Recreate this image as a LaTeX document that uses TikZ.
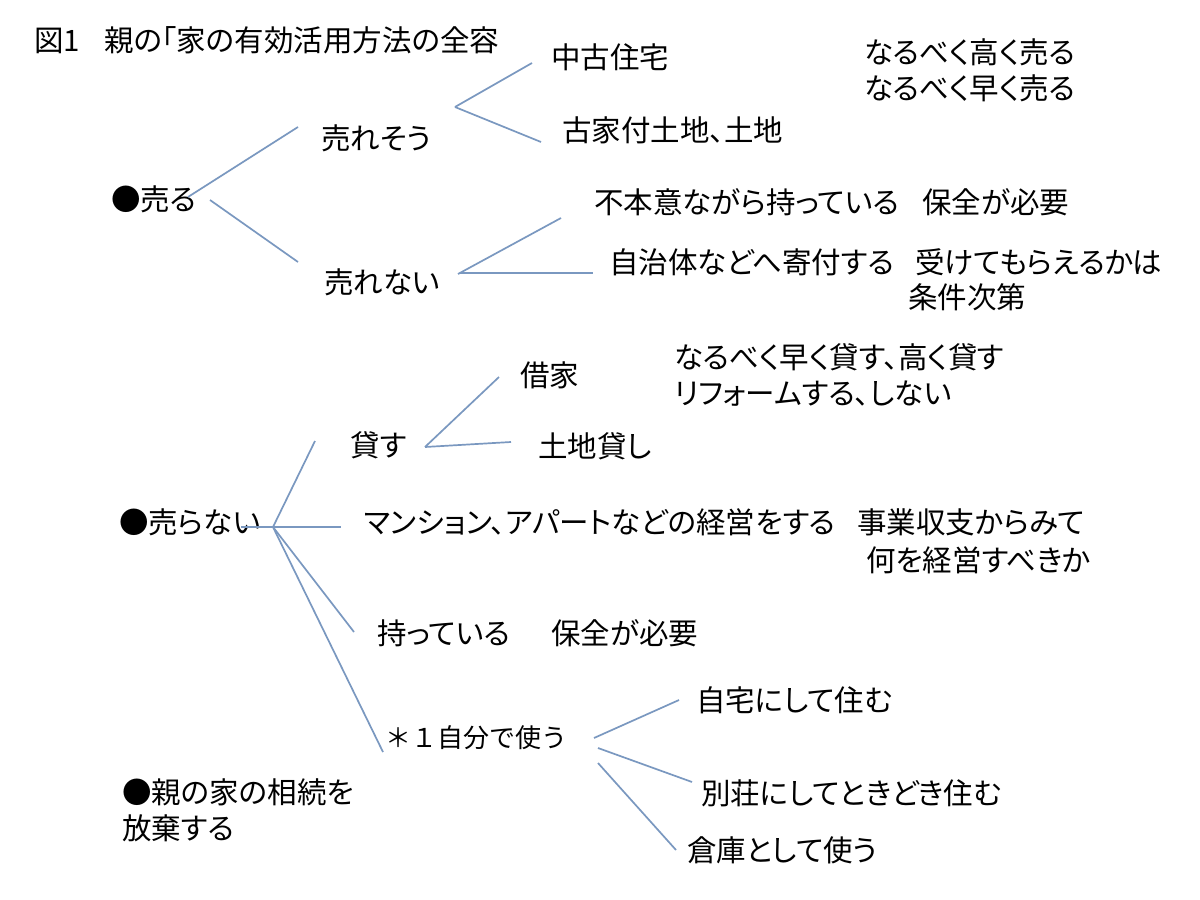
\documentclass[tikz,border=0pt]{standalone}
\usepackage{fontspec}
\newfontfamily\jp[RawFeature=+palt]{Noto Sans CJK JP}
\newfontfamily\jpm{Noto Sans CJK JP}
\definecolor{linkblue}{RGB}{122,152,192}
\begin{document}
\begin{tikzpicture}[x=1pt,y=-1pt,
  lbl/.style={anchor=west,inner sep=0pt,font=\jp\fontsize{29.5}{34}\selectfont},
  lblm/.style={anchor=west,inner sep=0pt,font=\jpm\fontsize{26}{32}\selectfont},
  link/.style={draw=linkblue,line width=1.7pt}]
\useasboundingbox[fill=white] (0,0) rectangle (1200,900);
% texts
\node[lbl] (title) at (34,40) {図1\hspace{24pt}親の「家の有効活用方法の全容};
\node[lbl] (chuko) at (551,57) {中古住宅};
\node[lbl] (takaku) at (864,52) {なるべく高く売る};
\node[lbl] (hayaku) at (864,88) {なるべく早く売る};
\node[lbl] (ureso) at (321,138) {売れそう};
\node[lbl] (furuie) at (562,130) {古家付土地、土地};
\node[lbl] (uru) at (111,199) {●売る};
\node[lbl] (fuhoni) at (594,202) {不本意ながら持っている};
\node[lbl] (hozen1) at (922,202) {保全が必要};
\node[lbl] (urenai) at (324,282) {売れない};
\node[lbl] (jichi) at (609,262) {自治体などへ寄付する};
\node[lbl] (ukete) at (915,262) {受けてもらえるかは};
\node[lbl] (joken) at (908,297) {条件次第};
\node[lbl] (shakuya) at (520,375) {借家};
\node[lbl] (kasu1) at (674,357) {なるべく早く貸す、高く貸す};
\node[lbl] (reform) at (674,394) {リフォームする、しない};
\node[lbl] (kasu) at (350,445) {貸す};
\node[lbl] (tochi) at (538,446) {土地貸し};
\node[lbl] (uranai) at (119,522) {●売らない};
\node[lbl] (mansion) at (364,522) {マンション、アパートなどの経営をする};
\node[lbl] (jigyo) at (857,522) {事業収支からみて};
\node[lbl] (nani) at (866,560) {何を経営すべきか};
\node[lbl] (motte) at (377,633) {持っている};
\node[lbl] (hozen2) at (551,633) {保全が必要};
\node[lblm] (jibun) at (385,738) {＊１自分で使う};
\node[lbl] (jitaku) at (696,700) {自宅にして住む};
\node[lbl] (besso) at (701,793) {別荘にしてときどき住む};
\node[lbl] (soko) at (687,850) {倉庫として使う};
\node[lbl] (hoki1) at (122,792) {●親の家の相続を};
\node[lbl] (hoki2) at (122,828) {放棄する};
% connector end points
\coordinate (a1) at (188,197); \coordinate (a2) at (298,127);
\coordinate (b1) at (210,200); \coordinate (b2) at (298,262);
\coordinate (hs) at (455,107); \coordinate (c2) at (532,63); \coordinate (d2) at (541,142);
\coordinate (hn) at (458,274); \coordinate (e2) at (561,218);
\coordinate (f1) at (460,273); \coordinate (f2) at (593,273);
\coordinate (hk) at (425,447); \coordinate (g2) at (499,377); \coordinate (i2) at (511,442);
\coordinate (hu) at (273,527); \coordinate (j2) at (315,441);
\coordinate (k1) at (241,527); \coordinate (k2) at (341,527);
\coordinate (l2) at (354,632); \coordinate (m2) at (383,752);
\coordinate (n1) at (594,738); \coordinate (n2) at (679,700);
\coordinate (o1) at (598,748); \coordinate (o2) at (692,782);
\coordinate (p1) at (598,763); \coordinate (p2) at (676,850);
% connectors
\draw[link] (a1) -- (a2);
\draw[link] (b1) -- (b2);
\draw[link] (hs) -- (c2);
\draw[link] (hs) -- (d2);
\draw[link] (hn) -- (e2);
\draw[link] (f1) -- (f2);
\draw[link] (hk) -- (g2);
\draw[link] (hk) -- (i2);
\draw[link] (hu) -- (j2);
\draw[link] (k1) -- (k2);
\draw[link] (hu) -- (l2);
\draw[link] (hu) -- (m2);
\draw[link] (n1) -- (n2);
\draw[link] (o1) -- (o2);
\draw[link] (p1) -- (p2);
\end{tikzpicture}
\end{document}
